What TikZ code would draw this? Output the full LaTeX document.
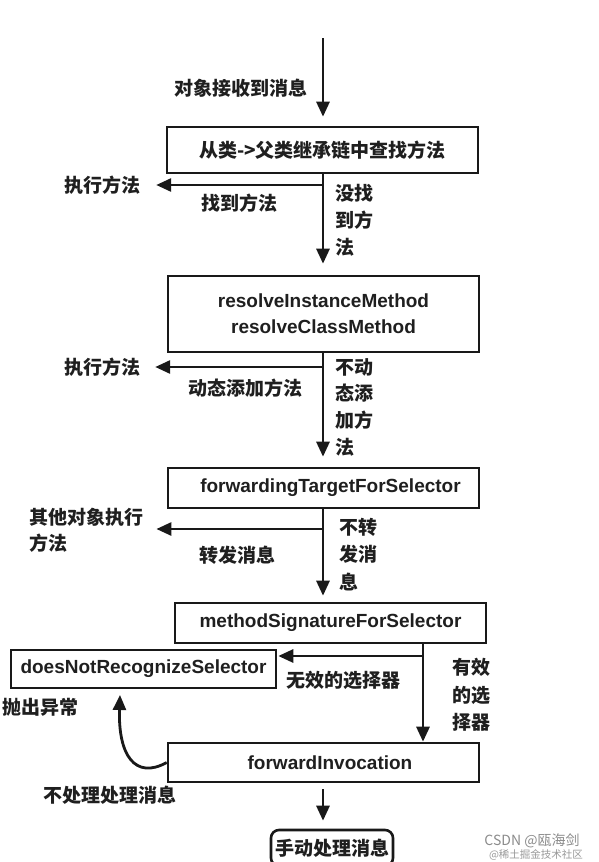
\documentclass[tikz,border=0pt]{standalone}
\usepackage{fontspec}
\setmainfont{Noto Sans CJK SC}
\newfontfamily\lat{Liberation Sans}
\usetikzlibrary{arrows.meta}
\begin{document}
\begin{tikzpicture}[x=1pt,y=-1pt,
  every node/.style={font=\fontsize{19}{27}\selectfont\bfseries, text=black!88},
  box/.style={draw=black!90, line width=2.6pt, inner sep=0pt},
  latfont/.style={font=\lat\fontsize{19}{26}\selectfont\bfseries},
  arr/.style={draw=black!90, line width=2.8pt, -{Triangle[length=15pt,width=13pt]}},
  lbl/.style={inner sep=0pt},
  stack/.style={inner sep=0pt, align=left, anchor=north west},
]
\useasboundingbox[fill=white] (0,0) rectangle (598,862);

% boxes
\node[box, minimum width=311pt, minimum height=46pt] (b1) at (322.5,150) {从类->父类继承链中查找方法};
\node[box, latfont, minimum width=311pt, minimum height=76pt, align=center] (b2) at (323.5,314) {resolveInstanceMethod\\resolveClassMethod};
\node[box, latfont, minimum width=311pt, minimum height=40pt] (b3) at (323.5,488) {\hspace*{14pt}forwardingTargetForSelector};
\node[box, latfont, minimum width=311pt, minimum height=40pt] (b4) at (330.5,623) {methodSignatureForSelector};
\node[box, latfont, minimum width=265pt, minimum height=38pt] (b5) at (143.5,669) {doesNotRecognizeSelector};
\node[box, latfont, minimum width=311pt, minimum height=39pt] (b6) at (323.5,762.5) {\hspace*{13pt}forwardInvocation};
\node[box, rounded corners=8pt, minimum width=122pt, minimum height=36pt] (b7) at (332,848) {手动处理消息};

% labels
\node[lbl] (t0) at (241,88) {对象接收到消息};
\node[lbl] (e1) at (102,185) {执行方法};
\node[lbl] (f1) at (239,203) {找到方法};
\node[stack] (n1) at (335,184) {没找\\到方\\法};
\node[lbl] (e2) at (102,367) {执行方法};
\node[lbl] (f2) at (245,388) {动态添加方法};
\node[stack, font=\fontsize{19}{26.7}\selectfont\bfseries] (n2) at (335,358) {不动\\态添\\加方\\法};
\node[stack, font=\fontsize{19}{26}\selectfont\bfseries] (e3) at (29,508) {其他对象执行\\方法};
\node[lbl] (f3) at (237,555) {转发消息};
\node[stack, font=\fontsize{19}{27.5}\selectfont\bfseries] (n3) at (339,518) {不转\\发消\\息};
\node[lbl] (f4) at (343,680) {无效的选择器};
\node[stack, font=\fontsize{19}{27.5}\selectfont\bfseries] (n4) at (452,658) {有效\\的选\\择器};
\node[lbl] (x5) at (40,707) {抛出异常};
\node[lbl] (f6) at (110,795) {不处理处理消息};
\node[lbl, font=\fontsize{14}{14}\selectfont, text=black!45] (wm1) at (532,841) {CSDN @瓯海剑};
\node[lbl, font=\fontsize{10.5}{10.5}\selectfont, text=black!40] (wm2) at (536,855) {@稀土掘金技术社区};

% connectors
\coordinate (s0) at (323,38);
\coordinate (j1) at (323,185);
\coordinate (j2) at (323,367);
\coordinate (j3) at (323,529);
\coordinate (v4) at (423,656);
\coordinate (c5) at (120,695);

\draw[arr, shorten >=9pt] (s0) -- (s0 |- b1.north);
\draw[arr, shorten >=11pt] (b1.south -| s0) -- (b2.north -| s0);
\draw[arr, shorten >=16pt] (j1) -- (e1.east);
\draw[arr, shorten >=10pt] (b2.south -| s0) -- (b3.north -| s0);
\draw[arr, shorten >=15pt] (j2) -- (e2.east);
\draw[arr, shorten >=6pt] (b3.south -| s0) -- (b4.north -| s0);
\draw[arr, shorten >=13pt] (j3) -- (j3 -| e3.east);
\draw[arr] (b4.south -| v4) -- (b6.north -| v4);
\draw[arr, shorten >=1pt] (v4) -- (v4 -| b5.east);
\draw[arr] (b6.west) .. controls (135,780) and (118,755) .. (c5);
\draw[arr, shorten <=6pt, shorten >=8pt] (b6.south -| s0) -- (b7.north -| s0);
\end{tikzpicture}
\end{document}
